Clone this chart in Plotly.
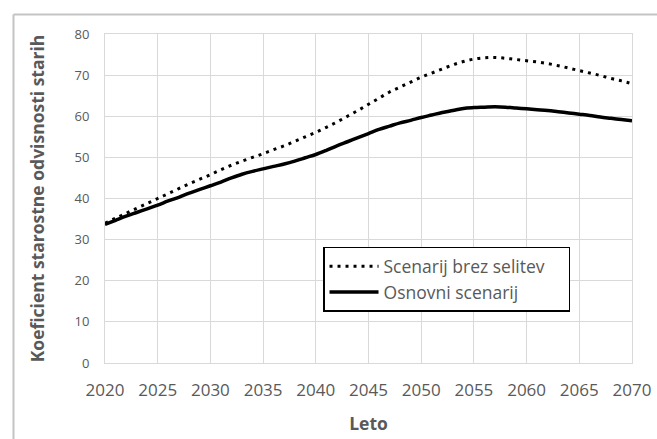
import plotly.graph_objects as go

years = list(range(2020, 2071))
brez_selitev = [34.0, 35.2, 36.4, 37.6, 38.8, 40.0, 41.2, 42.4, 43.6, 44.7,
                45.8, 47.0, 48.1, 49.1, 50.0, 50.9, 51.9, 52.8, 53.9, 55.0,
                56.1, 57.3, 58.6, 60.0, 61.4, 62.9, 64.4, 65.9, 67.1, 68.3,
                69.5, 70.5, 71.5, 72.5, 73.3, 73.9, 74.2, 74.3, 74.1, 73.8,
                73.5, 73.2, 72.8, 72.3, 71.7, 71.1, 70.5, 69.9, 69.2, 68.6, 67.9]
osnovni = [33.7, 34.7, 35.7, 36.6, 37.5, 38.4, 39.4, 40.3, 41.3, 42.2,
           43.1, 44.0, 45.0, 45.9, 46.6, 47.2, 47.8, 48.4, 49.1, 49.9,
           50.7, 51.7, 52.8, 53.8, 54.8, 55.8, 56.8, 57.6, 58.4, 59.0,
           59.7, 60.3, 60.9, 61.4, 61.9, 62.1, 62.2, 62.3, 62.2, 62.0,
           61.8, 61.6, 61.4, 61.1, 60.8, 60.5, 60.2, 59.8, 59.5, 59.2, 58.9]
series_names = ["Scenarij brez selitev", "Osnovni scenarij"]
x_title = "Leto"
y_title = "Koeficient starostne odvisnosti starih"

FONT = "Open Sans"
TXT = "#595959"
GRID = "#d9d9d9"
FRAME = "#c4c4c4"
PAD = "\u00a0" * 4

fig = go.Figure()
fig.add_trace(go.Scatter(x=years, y=brez_selitev, mode="lines", name=series_names[0] + PAD,
                         line=dict(color="black", width=3, dash="3px,5px", shape="spline")))
fig.add_trace(go.Scatter(x=years, y=osnovni, mode="lines", name=series_names[1],
                         line=dict(color="black", width=3.5, shape="spline")))

fig.update_layout(
    width=657, height=439,
    margin=dict(l=105, r=25, t=34, b=76),
    paper_bgcolor="white", plot_bgcolor="white",
    font=dict(family=FONT, color=TXT),
    showlegend=True,
    legend=dict(x=0.4137, y=0.3526, xanchor="left", yanchor="top",
                bordercolor="black", borderwidth=1.5, bgcolor="white",
                font=dict(size=17.5, color=TXT, family=FONT),
                tracegroupgap=0, itemwidth=49),
    xaxis=dict(range=[2020, 2070], dtick=5, tick0=2020, showgrid=True, gridcolor=GRID,
               gridwidth=1, showline=True, linecolor=GRID, linewidth=1, mirror=True,
               ticks="", tickfont=dict(size=17, color=TXT), ticklabelstandoff=12,
               zeroline=False, automargin=False,
               title=dict(text="<b>" + x_title + "</b>", font=dict(size=17.5, color=TXT),
                          standoff=17)),
    yaxis=dict(range=[0, 80], dtick=10, showgrid=True, gridcolor=GRID, gridwidth=1,
               showline=True, linecolor=GRID, linewidth=1, mirror=True, zeroline=False,
               ticks="", tickfont=dict(size=13, color=TXT), ticklabelstandoff=12,
               automargin=False,
               title=dict(text="<b>" + y_title + "</b>", font=dict(size=17.5, color=TXT),
                          standoff=25)),
)

# outer chart-area frame (paper coordinates)
fig.add_shape(type="line", xref="paper", yref="paper", x0=-0.17362, x1=1.07, y0=1.0593, y1=1.0593,
              line=dict(color=FRAME, width=2), layer="above")
fig.add_shape(type="line", xref="paper", yref="paper", x0=-0.17362, x1=-0.17362, y0=-0.3, y1=1.0593,
              line=dict(color=FRAME, width=2), layer="above")

fig.write_html("out.html", config={"displayModeBar": False},
               post_script="document.body.style.margin='0';")
